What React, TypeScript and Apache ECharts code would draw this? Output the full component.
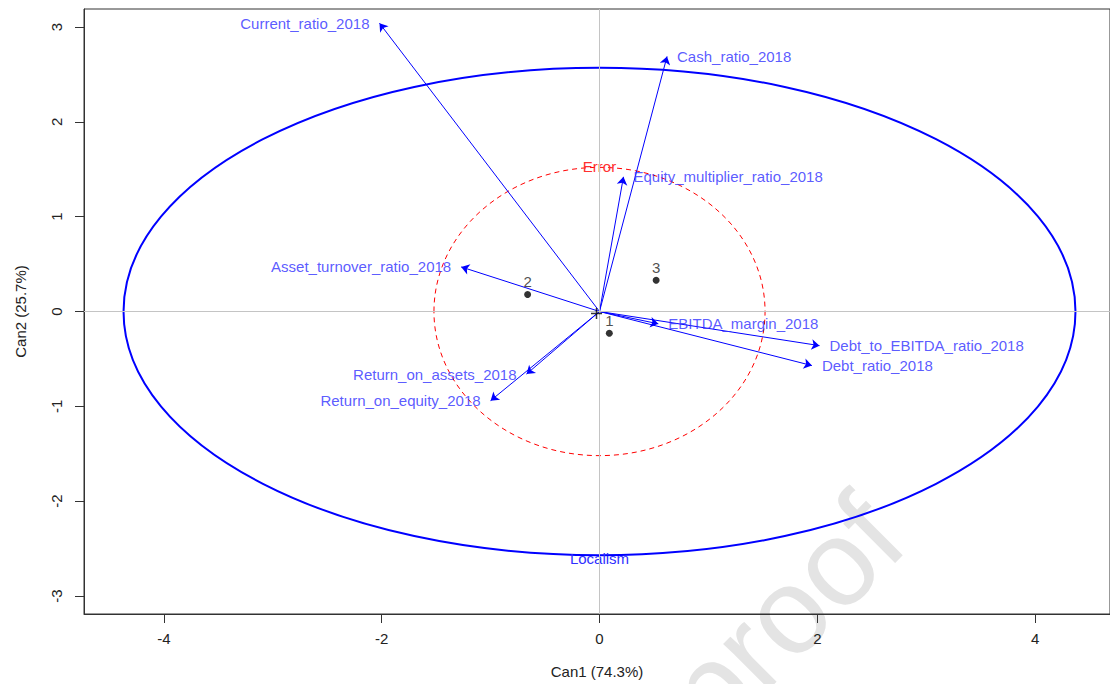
import React, { useEffect, useRef } from "react";
import * as echarts from "echarts";

// ---- data ----
const xTicks = [-4, -2, 0, 2, 4];
const yTicks = [-3, -2, -1, 0, 1, 2, 3];
const xRange = [-4.733, 4.687];
const yRange = [-3.19, 3.19];

const xTitle = "Can1 (74.3%)";
const yTitle = "Can2 (25.7%)";

const varNames = [
  "Current_ratio_2018",
  "Cash_ratio_2018",
  "Equity_multiplier_ratio_2018",
  "Asset_turnover_ratio_2018",
  "EBITDA_margin_2018",
  "Debt_to_EBITDA_ratio_2018",
  "Debt_ratio_2018",
  "Return_on_assets_2018",
  "Return_on_equity_2018",
];
const varCan1 = [-2.02, 0.62, 0.22, -1.27, 0.54, 2.02, 1.95, -0.67, -1.0];
const varCan2 = [3.04, 2.69, 1.42, 0.47, -0.13, -0.36, -0.57, -0.66, -0.94];
const varLabelSide = ["left", "right", "right", "left", "right", "right", "right", "left", "left"];

const groupNames = ["1", "2", "3"];
const groupCan1 = [0.09, -0.66, 0.52];
const groupCan2 = [-0.23, 0.18, 0.33];

const ellipseNames = ["Localism", "Error"];
const ellipseRadiusX = [4.37, 1.52];
const ellipseRadiusY = [2.57, 1.52];

const watermarkText = "proof";

const FONT = "'Liberation Sans', Arial, Helvetica, sans-serif";

export default function App() {
  const ref = useRef<HTMLDivElement>(null);

  useEffect(() => {
    if (!ref.current) return;
    const chart = echarts.init(ref.current, undefined, { renderer: "svg" });

    const arrowData = varNames.map((n, i) => ({
      coords: [
        [0, 0],
        [varCan1[i], varCan2[i]],
      ],
    }));

    const arrowLabelData = varNames.map((n, i) => ({
      name: n,
      value: [varCan1[i], varCan2[i]],
      label: { position: varLabelSide[i] },
    }));

    const groupData = groupNames.map((n, i) => ({
      name: n,
      value: [groupCan1[i], groupCan2[i]],
    }));

    const ellipseData = ellipseNames.map((n, i) => [0, 0, ellipseRadiusX[i], ellipseRadiusY[i], n]);

    const option: any = {
      animation: false,
      backgroundColor: "#ffffff",
      textStyle: { fontFamily: FONT },
      graphic: [
        {
          type: "text",
          x: 925,
          y: 560,
          rotation: (45 * Math.PI) / 180,
          z: -10,
          silent: true,
          style: {
            text: watermarkText,
            fontSize: 122,
            fontFamily: FONT,
            fill: "#e4e4e4",
            align: "right",
            verticalAlign: "bottom",
          },
        },
      ],
      grid: {
        left: 84,
        right: -2,
        top: 9,
        bottom: 67,
        show: true,
        borderColor: "#333333",
        borderWidth: 1,
        backgroundColor: "transparent",
        z: 1,
      },
      xAxis: {
        type: "value",
        min: xRange[0],
        max: xRange[1],
        axisLine: { show: true, onZero: false, lineStyle: { color: "#333333", width: 1 } },
        axisTick: {
          show: true,
          inside: false,
          length: 9,
          customValues: xTicks,
          lineStyle: { color: "#333333" },
        },
        axisLabel: {
          customValues: xTicks,
          margin: 17,
          fontSize: 15,
          color: "#222222",
          fontFamily: FONT,
          formatter: (v: number) => String(v),
        },
        splitLine: { show: false },
        name: xTitle,
        nameLocation: "middle",
        nameGap: 50,
        nameTextStyle: { fontSize: 15, color: "#222222", fontFamily: FONT },
      },
      yAxis: {
        type: "value",
        min: yRange[0],
        max: yRange[1],
        axisLine: { show: true, onZero: false, lineStyle: { color: "#333333", width: 1 } },
        axisTick: {
          show: true,
          inside: false,
          length: 9,
          customValues: yTicks,
          lineStyle: { color: "#333333" },
        },
        axisLabel: {
          customValues: yTicks,
          rotate: 90,
          margin: 20,
          fontSize: 15,
          color: "#222222",
          fontFamily: FONT,
          formatter: (v: number) => String(v),
        },
        splitLine: { show: false },
        name: yTitle,
        nameLocation: "middle",
        nameGap: 56,
        nameRotate: 90,
        nameTextStyle: { fontSize: 15, color: "#222222", fontFamily: FONT },
      },
      series: [
        {
          type: "scatter",
          data: [],
          z: 1,
          silent: true,
          markLine: {
            silent: true,
            symbol: ["none", "none"],
            label: { show: false },
            lineStyle: { color: "#c4c4c4", width: 1, type: "solid" },
            data: [{ xAxis: 0 }, { yAxis: 0 }],
          },
        },
        {
          type: "custom",
          coordinateSystem: "cartesian2d",
          z: 3,
          silent: true,
          data: ellipseData,
          renderItem: (params: any, api: any) => {
            const c = api.coord([api.value(0), api.value(1)]);
            const s = api.size([api.value(2), api.value(3)]);
            const i = params.dataIndex;
            const isMain = i === 0;
            const color = isMain ? "#0000ff" : "#ff0000";
            const labelY = isMain ? c[1] + s[1] + 3 : c[1] - s[1] - 1;
            return {
              type: "group",
              children: [
                {
                  type: "ellipse",
                  shape: { cx: c[0], cy: c[1], rx: s[0], ry: s[1] },
                  style: {
                    fill: "none",
                    stroke: color,
                    lineWidth: isMain ? 2 : 1,
                    lineDash: isMain ? null : [5, 4],
                  },
                },
                {
                  type: "text",
                  x: c[0],
                  y: labelY,
                  style: {
                    text: ellipseNames[i],
                    fontSize: 15,
                    fontFamily: FONT,
                    fill: isMain ? "#3030ff" : "#ff3030",
                    align: "center",
                    verticalAlign: "middle",
                  },
                },
              ],
            };
          },
        },
        {
          type: "lines",
          coordinateSystem: "cartesian2d",
          z: 4,
          silent: true,
          polyline: false,
          symbol: ["none", "arrow"],
          symbolSize: 8,
          lineStyle: { color: "#0000ff", width: 1, opacity: 1 },
          data: arrowData,
        },
        {
          type: "scatter",
          z: 5,
          silent: true,
          symbolSize: 0,
          data: arrowLabelData,
          label: {
            show: true,
            formatter: (p: any) => p.name,
            distance: 10,
            fontSize: 15,
            fontFamily: FONT,
            color: "#3030ff",
          },
        },
        {
          type: "scatter",
          z: 6,
          silent: true,
          symbol: "circle",
          symbolSize: 7,
          itemStyle: { color: "#000000" },
          data: groupData,
          label: {
            show: true,
            position: "top",
            distance: 2,
            formatter: (p: any) => p.name,
            fontSize: 15,
            fontFamily: FONT,
            color: "#222222",
          },
        },
        {
          type: "scatter",
          z: 6,
          silent: true,
          symbol: "path://M5,0L5,10M0,5L10,5",
          symbolSize: 11,
          symbolOffset: [-3, 2],
          itemStyle: { color: "transparent", borderColor: "#000000", borderWidth: 1.5 },
          data: [[0, 0]],
        },
      ],
    };

    chart.setOption(option);
    return () => {
      chart.dispose();
    };
  }, []);

  return (
    <div
      ref={ref}
      style={{ position: "fixed", left: 0, top: 0, width: 1110, height: 684, background: "#fff" }}
    />
  );
}
